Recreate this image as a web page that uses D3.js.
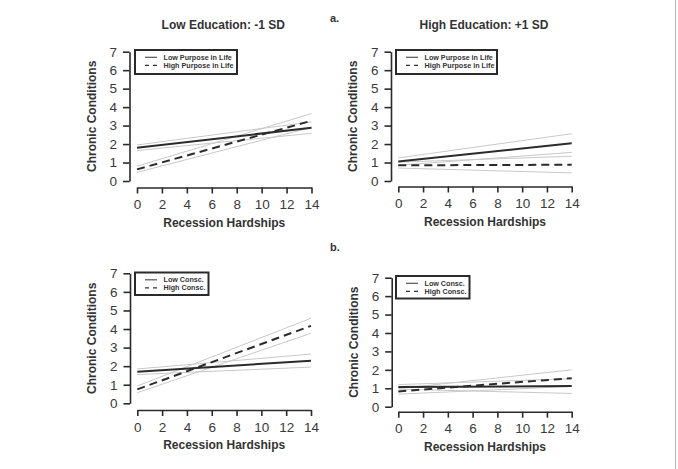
<!DOCTYPE html>
<html><head><meta charset="utf-8">
<script src="https://cdn.jsdelivr.net/npm/d3@7"></script>
<style>
html,body{margin:0;padding:0;background:#fff;}
svg{display:block;font-family:"Liberation Sans",Arial,Helvetica,sans-serif;}
</style></head>
<body>
<svg id="c" width="678" height="469"></svg>
<script>
// ---- data ----
const hardships = [0, 14];
const xTicks = [0, 2, 4, 6, 8, 10, 12, 14];
const yTicks = [0, 1, 2, 3, 4, 5, 6, 7];
const panelTitles = ["Low Education: -1 SD", "High Education: +1 SD", "", ""];
const legendLabelsA = ["Low Purpose in Life", "High Purpose in Life"];
const legendLabelsB = ["Low Consc.", "High Consc."];
const xTitle = "Recession Hardships";
const yTitle = "Chronic Conditions";

// panel a, low education
const aLowEduLowFit = [1.80, 2.88], aLowEduLowLo = [1.65, 2.58], aLowEduLowHi = [1.95, 3.20];
const aLowEduHighFit = [0.63, 3.26], aLowEduHighLo = [0.47, 2.90], aLowEduHighHi = [0.80, 3.65];
// panel a, high education
const aHighEduLowFit = [1.05, 2.04], aHighEduLowLo = [0.85, 1.55], aHighEduLowHi = [1.25, 2.56];
const aHighEduHighFit = [0.85, 0.88], aHighEduHighLo = [0.70, 0.44], aHighEduHighHi = [1.02, 1.34];
// panel b, low education
const bLowEduLowFit = [1.70, 2.29], bLowEduLowLo = [1.55, 1.95], bLowEduLowHi = [1.85, 2.65];
const bLowEduHighFit = [0.75, 4.17], bLowEduHighLo = [0.57, 3.77], bLowEduHighHi = [0.93, 4.58];
// panel b, high education
const bHighEduLowFit = [1.07, 1.12], bHighEduLowLo = [0.95, 0.72], bHighEduLowHi = [1.20, 1.52];
const bHighEduHighFit = [0.83, 1.55], bHighEduHighLo = [0.68, 1.10], bHighEduHighHi = [0.98, 2.00];

const panels = [
  {title: panelTitles[0], legend: legendLabelsA,
   low: [aLowEduLowFit, aLowEduLowLo, aLowEduLowHi], high: [aLowEduHighFit, aLowEduHighLo, aLowEduHighHi],
   axX: 129.5, xr: [137, 311.5], yr: [181, 51.7], axY: 187.5, leg: [135, 50, 237, 74]},
  {title: panelTitles[1], legend: legendLabelsA,
   low: [aHighEduLowFit, aHighEduLowLo, aHighEduLowHi], high: [aHighEduHighFit, aHighEduHighLo, aHighEduHighHi],
   axX: 391, xr: [398.3, 571.7], yr: [181, 51.7], axY: 186.5, leg: [396, 50, 497, 74]},
  {title: panelTitles[2], legend: legendLabelsB,
   low: [bLowEduLowFit, bLowEduLowLo, bLowEduLowHi], high: [bLowEduHighFit, bLowEduHighLo, bLowEduHighHi],
   axX: 130, xr: [137.3, 311], yr: [403.3, 273.3], axY: 410, leg: [135, 272.5, 208.5, 295]},
  {title: panelTitles[3], legend: legendLabelsB,
   low: [bHighEduLowFit, bHighEduLowLo, bHighEduLowHi], high: [bHighEduHighFit, bHighEduHighLo, bHighEduHighHi],
   axX: 391.7, xr: [398.3, 571.7], yr: [406.7, 277.7], axY: 411.7, leg: [396, 276, 469.5, 298.5]}
];

const svg = d3.select("#c");
svg.append("rect").attr("width", 678).attr("height", 469).attr("fill", "#fff");
svg.append("line").attr("x1", 675.5).attr("x2", 675.5).attr("y1", 0).attr("y2", 469)
  .attr("stroke", "#bbb").attr("stroke-width", 1.2);

const tickColor = "#3a3a3a";

panels.forEach(p => {
  const x = d3.scaleLinear().domain([0, 14]).range(p.xr);
  const y = d3.scaleLinear().domain([0, 7]).range(p.yr);
  const g = svg.append("g");

  // y axis
  const ya = g.append("g").attr("transform", `translate(${p.axX},0)`)
    .call(d3.axisLeft(y).tickValues(yTicks).tickSize(6.5).tickSizeOuter(0).tickPadding(6).tickFormat(d3.format("d")));
  // x axis
  const xa = g.append("g").attr("transform", `translate(0,${p.axY})`)
    .call(d3.axisBottom(x).tickValues(xTicks).tickSize(6).tickSizeOuter(0).tickPadding(6).tickFormat(d3.format("d")));
  [ya, xa].forEach(a => {
    a.select(".domain").attr("stroke", "#2a2a2a").attr("stroke-width", 1.6);
    a.selectAll(".tick line").attr("stroke", "#2a2a2a").attr("stroke-width", 1.6);
    a.selectAll(".tick text").attr("fill", tickColor).attr("font-size", 13.5)
      .attr("font-family", "Liberation Sans, Arial, sans-serif");
  });

  // axis titles
  const xMid = (p.xr[0] + p.xr[1]) / 2;
  g.append("text").attr("x", xMid).attr("y", p.axY + 39).attr("text-anchor", "middle")
    .attr("font-size", 12).attr("font-weight", "bold").attr("fill", "#333").text(xTitle);
  const yMid = (p.yr[0] + p.yr[1]) / 2;
  g.append("text").attr("transform", `translate(${p.axX - 34},${yMid}) rotate(-90)`)
    .attr("text-anchor", "middle").attr("font-size", 12).attr("font-weight", "bold").attr("fill", "#333").text(yTitle);

  if (p.title) {
    g.append("text").attr("x", xMid - 1).attr("y", 29).attr("text-anchor", "middle")
      .attr("font-size", 12).attr("font-weight", "bold").attr("fill", "#333").text(p.title);
  }

  const line = d3.line().x((d, i) => x(hardships[i])).y(d => y(d));
  // CI lines
  [p.low[1], p.low[2], p.high[1], p.high[2]].forEach(s => {
    g.append("path").datum(s).attr("d", line).attr("fill", "none")
      .attr("stroke", "#c9c9c9").attr("stroke-width", 1);
  });
  g.append("path").datum(p.low[0]).attr("d", line).attr("fill", "none")
    .attr("stroke", "#2b2b2b").attr("stroke-width", 2);
  g.append("path").datum(p.high[0]).attr("d", line).attr("fill", "none")
    .attr("stroke", "#2b2b2b").attr("stroke-width", 2).attr("stroke-dasharray", "8,5");

  // legend
  const [lx0, ly0, lx1, ly1] = p.leg;
  g.append("rect").attr("x", lx0).attr("y", ly0).attr("width", lx1 - lx0).attr("height", ly1 - ly0)
    .attr("fill", "#fff").attr("stroke", "#2a2a2a").attr("stroke-width", 2);
  const rowY = [ly0 + 7.3, ly0 + 15.3];
  g.append("line").attr("x1", lx0 + 10).attr("x2", lx0 + 22).attr("y1", rowY[0]).attr("y2", rowY[0])
    .attr("stroke", "#555").attr("stroke-width", 1.2);
  g.append("line").attr("x1", lx0 + 10).attr("x2", lx0 + 24).attr("y1", rowY[1]).attr("y2", rowY[1])
    .attr("stroke", "#333").attr("stroke-width", 1.2).attr("stroke-dasharray", "4,4");
  p.legend.forEach((t, i) => {
    g.append("text").attr("x", lx0 + 28.5).attr("y", rowY[i]).attr("dy", "0.35em")
      .attr("font-size", 7.2).attr("font-weight", "bold").attr("fill", "#333").text(t);
  });
});

svg.append("text").attr("x", 330).attr("y", 22).attr("font-size", 11).attr("font-weight", "bold")
  .attr("fill", "#333").text("a.");
svg.append("text").attr("x", 330).attr("y", 251).attr("font-size", 11).attr("font-weight", "bold")
  .attr("fill", "#333").text("b.");
</script>
</body></html>
